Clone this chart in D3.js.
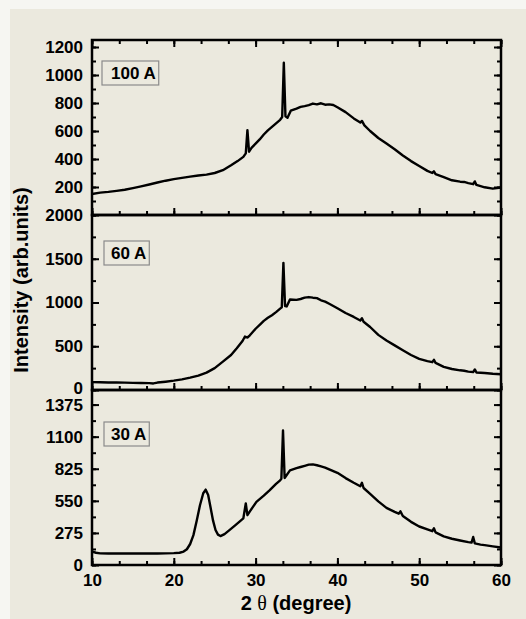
<!DOCTYPE html>
<html>
<head>
<meta charset="utf-8">
<script src="https://cdn.jsdelivr.net/npm/d3@7"></script>
<style>
body { margin: 0; background: #f6f6f2; }
svg { display: block; font-family: "Liberation Sans", Arial, sans-serif; }
.tick text { font-family: "Liberation Sans", Arial, sans-serif; font-size: 17px; font-weight: bold; fill: #000; }
.tick line { stroke: #000; stroke-width: 2; }
.frame { fill: none; stroke: #000; stroke-width: 2.5; }
.curve { fill: none; stroke: #000; stroke-width: 2.4; stroke-linejoin: round; }
.label-box { fill: #ebe9de; stroke: #8a8a8a; stroke-width: 1.2; }
.label-text { font-size: 17px; font-weight: bold; }
.title { font-size: 20px; font-weight: bold; }
</style>
</head>
<body>
<svg id="chart"></svg>
<script>
// sample names, top to bottom
var sampleLabels = ['100 A', '60 A', '30 A'];

var xTicks = [10, 20, 30, 40, 50, 60];

var yTicks100 = [200, 400, 600, 800, 1000, 1200];
var yTicks60 = [0, 500, 1000, 1500, 2000];
var yTicks30 = [0, 275, 550, 825, 1100, 1375];

// axis tops
var yMax = [1250, 2000, 1500];

// 100 A
var twoTheta100 = [10, 11, 12, 13, 14, 15, 16, 17, 18, 19, 20, 21, 22, 23, 24, 25, 26, 27, 27.8, 28.5,
  28.8, 29.0, 29.2, 29.5, 30, 30.5, 31, 31.5, 32, 32.5, 33.0, 33.25, 33.45, 33.65, 33.9, 34.3, 35, 35.5,
  36, 36.5, 37, 37.5, 38, 38.5, 39, 39.5, 40, 41, 42, 42.8, 43.0, 43.3, 44, 45, 46, 47, 48, 49, 50, 51,
  51.6, 51.8, 52, 53, 54, 55, 55.5, 56, 56.6, 56.8, 57.0, 58, 59, 60];
var intensity100 = [150, 160, 165, 172, 180, 192, 205, 218, 232, 245, 256, 265, 274, 282, 288, 300, 320, 355, 385, 415,
  440, 606, 452, 480, 510, 540, 575, 605, 630, 655, 680, 700, 1087, 705, 695, 745, 760, 772,
  778, 785, 796, 790, 798, 788, 790, 786, 770, 735, 690, 660, 672, 640, 600, 550, 510, 470, 425, 385, 350, 315,
  300, 312, 292, 270, 248, 238, 236, 228, 220, 240, 215, 198, 188, 196];

// 60 A
var twoTheta60 = [10, 11, 12, 13, 14, 15, 16, 17, 17.5, 18, 19, 20, 21, 22, 23, 24, 25, 26, 27, 27.7,
  28.4, 28.7, 29.0, 29.3, 30, 30.5, 31, 31.5, 32, 32.5, 33.0, 33.2, 33.4, 33.6, 33.8, 34.2, 35, 35.5,
  36, 36.5, 37, 37.5, 38, 38.5, 39, 39.5, 40, 41, 42, 42.8, 43.0, 43.2, 44, 45, 46, 47, 48, 49, 50, 51,
  51.6, 51.8, 52, 53, 54, 55, 55.5, 56, 56.6, 56.8, 57.0, 58, 59, 60];
var intensity60 = [90, 88, 85, 86, 84, 82, 80, 78, 75, 85, 95, 107, 122, 141, 165, 199, 250, 325, 400, 478,
  560, 611, 600, 625, 700, 745, 790, 825, 855, 890, 930, 945, 1453, 960, 955, 1035, 1030, 1040,
  1055, 1062, 1055, 1050, 1025, 1010, 985, 960, 935, 880, 835, 795, 820, 780, 720, 630, 565, 510, 455, 400, 355, 330,
  318, 345, 310, 265, 240, 225, 220, 210, 205, 235, 200, 195, 185, 180];

// 30 A
var twoTheta30 = [10, 10.5, 11, 12, 13, 14, 15, 16, 17, 18, 19, 20, 20.7, 21.2, 21.6, 22.0, 22.4, 22.8, 23.2, 23.6,
  23.9, 24.2, 24.5, 24.8, 25.1, 25.4, 25.7, 26.2, 26.8, 27.5, 28.0, 28.5, 28.8, 29.0, 29.3, 30.1, 31, 31.7,
  32.5, 33.0, 33.15, 33.35, 33.55, 34.2, 35, 35.5, 36, 36.5, 37, 37.5, 38, 38.5, 39, 40, 41, 42, 42.8, 43.0,
  43.2, 44, 45, 46, 47, 47.5, 47.7, 48, 49, 50, 51, 51.6, 51.8, 52, 53, 54, 55, 56, 56.4, 56.6, 56.8, 57.5,
  58, 59, 60];
var intensity30 = [115, 105, 100, 98, 100, 99, 100, 98, 100, 99, 100, 102, 105, 115, 135, 180, 256, 380, 512, 615,
  646, 600, 490, 380, 300, 260, 248, 265, 299, 340, 370, 400, 527, 427, 460, 541, 595, 640,
  695, 726, 740, 1153, 746, 811, 830, 840, 850, 860, 862, 855, 845, 835, 820, 790, 745, 705, 675, 705,
  660, 610, 545, 490, 455, 440, 460, 420, 370, 330, 305, 290, 315, 280, 245, 225, 210, 196, 192, 240, 185, 175,
  170, 160, 150];

var width = 526,
  height = 619;

var plotLeft = 92,
  plotRight = 501,
  panelTop = 40,
  panelHeight = 175;

// label box offsets from the panel top
var boxOffsets = [21, 26, 32];

var panels = [
  { label: sampleLabels[0], xs: twoTheta100, ys: intensity100, ticks: yTicks100, max: yMax[0] },
  { label: sampleLabels[1], xs: twoTheta60, ys: intensity60, ticks: yTicks60, max: yMax[1] },
  { label: sampleLabels[2], xs: twoTheta30, ys: intensity30, ticks: yTicks30, max: yMax[2] }
];

var svg = d3.select('#chart')
  .attr('width', width)
  .attr('height', height);

svg.append('rect')
  .attr('x', 10)
  .attr('y', 9)
  .attr('width', width - 10)
  .attr('height', height - 9)
  .attr('fill', '#ebe9de');

var x = d3.scaleLinear()
  .domain([10, 60])
  .range([plotLeft, plotRight]);

var xMinor = d3.range(0, 16).map(function(i) { return 10 + i * 10 / 3; });

function noDomain(sel) { sel.select('.domain').remove(); }

panels.forEach(function(p, i) {
  var top = panelTop + i * panelHeight,
    bottom = top + panelHeight;

  var y = d3.scaleLinear()
    .domain([0, p.max])
    .range([bottom, top]);

  var step = p.ticks[1] - p.ticks[0];
  var yMinor = d3.range(0, p.max + 0.001, step / 2);

  var g = svg.append('g').attr('class', 'panel');

  var line = d3.line()
    .x(function(d) { return x(d[0]); })
    .y(function(d) { return y(d[1]); });

  g.append('path')
    .datum(d3.zip(p.xs, p.ys))
    .attr('class', 'curve')
    .attr('d', line);

  // left
  g.append('g')
    .attr('transform', 'translate(' + plotLeft + ',0)')
    .call(d3.axisLeft(y).tickValues(yMinor).tickSizeInner(-4).tickFormat(''))
    .call(noDomain);
  var yAxis = g.append('g')
    .attr('transform', 'translate(' + plotLeft + ',0)')
    .call(d3.axisLeft(y).tickValues(p.ticks).tickSizeInner(-7).tickPadding(9).tickFormat(d3.format('d')))
    .call(noDomain);

  // the 0 of the middle panel sits just above the 1375 below it
  if (i === 1) {
    yAxis.selectAll('.tick text')
      .filter(function(d) { return d === 0; })
      .attr('dy', '0.2em');
  }

  // right
  g.append('g')
    .attr('transform', 'translate(' + plotRight + ',0)')
    .call(d3.axisRight(y).tickValues(yMinor).tickSizeInner(-4).tickFormat(''))
    .call(noDomain);
  g.append('g')
    .attr('transform', 'translate(' + plotRight + ',0)')
    .call(d3.axisRight(y).tickValues(p.ticks).tickSizeInner(-7).tickFormat(''))
    .call(noDomain);

  // bottom
  g.append('g')
    .attr('transform', 'translate(0,' + bottom + ')')
    .call(d3.axisBottom(x).tickValues(xMinor).tickSizeInner(-4).tickFormat(''))
    .call(noDomain);
  g.append('g')
    .attr('transform', 'translate(0,' + bottom + ')')
    .call(d3.axisBottom(x).tickValues(xTicks).tickSizeInner(-7).tickPadding(9)
      .tickFormat(i === panels.length - 1 ? d3.format('d') : ''))
    .call(noDomain);

  if (i === 0) {
    g.append('g')
      .attr('transform', 'translate(0,' + top + ')')
      .call(d3.axisTop(x).tickValues(xMinor).tickSizeInner(-4).tickFormat(''))
      .call(noDomain);
    g.append('g')
      .attr('transform', 'translate(0,' + top + ')')
      .call(d3.axisTop(x).tickValues(xTicks).tickSizeInner(-7).tickFormat(''))
      .call(noDomain);
  }

  g.append('rect')
    .attr('class', 'frame')
    .attr('x', plotLeft)
    .attr('y', top)
    .attr('width', plotRight - plotLeft)
    .attr('height', panelHeight);

  // sample label in a box
  var boxTop = top + boxOffsets[i];
  var box = g.append('rect').attr('class', 'label-box');
  var txt = g.append('text')
    .attr('class', 'label-text')
    .attr('x', 111)
    .attr('y', boxTop + 12)
    .attr('dy', '0.36em')
    .text(p.label);
  var bb = txt.node().getBBox();
  box.attr('x', 111 - 7)
    .attr('y', boxTop)
    .attr('width', bb.width + 10)
    .attr('height', 24);
  if (i === 0) box.attr('x', 102).attr('width', bb.width + 12);
});

svg.append('text')
  .attr('class', 'title')
  .attr('transform', 'translate(27.5,280)rotate(-90)')
  .attr('text-anchor', 'middle')
  .text('Intensity (arb.units)');

var xTitle = svg.append('text')
  .attr('class', 'title')
  .attr('x', 296)
  .attr('y', 610)
  .attr('text-anchor', 'middle');
xTitle.append('tspan').text('2 ');
xTitle.append('tspan')
  .attr('font-family', '"Liberation Serif", "Times New Roman", serif')
  .attr('font-weight', 'normal')
  .text('θ');
xTitle.append('tspan').text(' (degree)');
</script>
</body>
</html>
